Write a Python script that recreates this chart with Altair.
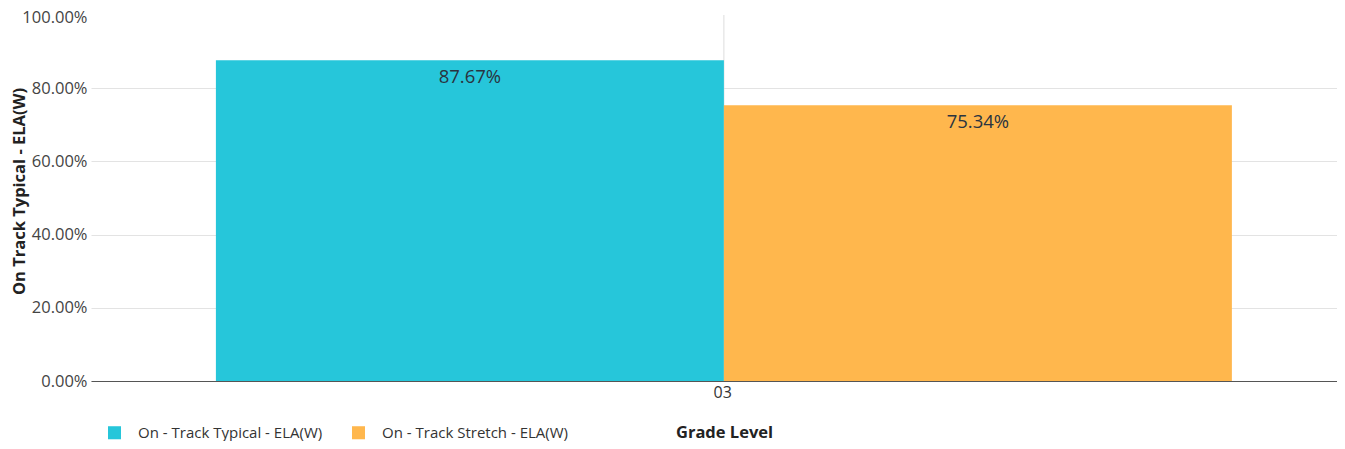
import altair as alt
import pandas as pd

grades = ["03", "03"]
series = ["On - Track Typical - ELA(W)", "On - Track Stretch - ELA(W)"]
values = [87.67, 75.34]
colors = ["#26C6DA", "#FFB74D"]

df = pd.DataFrame({
    "Grade": grades,
    "Series": series,
    "Value": [v / 100 for v in values],
})

FONT = "Open Sans"

x_enc = alt.X(
    "Grade:N",
    title="Grade Level",
    scale=alt.Scale(paddingInner=0, paddingOuter=0.1132, align=0.543),
    axis=alt.Axis(
        labelAngle=0, ticks=False, grid=False, domainColor="#555555",
        labelFontSize=16, labelColor="#333333", labelPadding=11, labelOffset=8,
        titleFontSize=16.5, titleFontWeight="bold", titleColor="#222222",
        titleX=633, titleY=51, titleAlign="center", titleBaseline="middle",
    ),
)
xoff = alt.XOffset("Series:N", sort=series, scale=alt.Scale(paddingInner=0, paddingOuter=0))
y_enc = alt.Y(
    "Value:Q",
    title="On Track Typical - ELA(W)",
    scale=alt.Scale(domain=[0, 1], nice=False),
    axis=alt.Axis(
        format=".2%", values=[0, 0.2, 0.4, 0.6, 0.8, 1.0], ticks=False, domain=False,
        labelFontSize=16.5, labelColor="#444444", labelPadding=4,
        labelOffset={"condition": {"test": "datum.value == 1", "value": 2}, "value": 0},
        gridColor="#e3e3e3",
        gridOpacity={"condition": {"test": "datum.value == 1", "value": 0}, "value": 1},
        titleFontSize=16.5, titleFontWeight="bold", titleColor="#222222",
        titleX=-72, titleY=176, titleAngle=270, titleAlign="center", titleBaseline="middle",
    ),
)

bars = alt.Chart(df).mark_bar().encode(
    x=x_enc,
    xOffset=xoff,
    y=y_enc,
    color=alt.Color(
        "Series:N",
        sort=series,
        scale=alt.Scale(domain=series, range=colors),
        legend=alt.Legend(
            title=None, orient="none", direction="horizontal", padding=0,
            legendX=16, legendY=410, symbolType="square", symbolSize=170,
            symbolStrokeWidth=0, labelFontSize=15, labelColor="#333333",
            labelOffset=16, columnPadding=28, labelLimit=400,
        ),
    ),
)

labels = alt.Chart(df).mark_text(
    baseline="middle", align="center", dy=17, fontSize=18.5, color="#2a3440", font=FONT
).encode(
    x=alt.X("Grade:N"),
    xOffset=xoff,
    y=alt.Y("Value:Q"),
    text=alt.Text("Value:Q", format=".2%"),
)

vline = alt.Chart(pd.DataFrame({"Grade": ["03"]})).mark_rule(color="#dddddd", strokeWidth=1).encode(
    x=alt.X("Grade:N"),
    y=alt.value(0),
    y2=alt.value(366),
)

chart = alt.layer(vline, bars, labels).properties(
    width=1246,
    height=366,
    autosize=alt.AutoSizeParams(type="none"),
    padding={"left": 83, "top": 7, "right": 0, "bottom": 60},
).configure(font=FONT).configure_view(stroke=None)

chart.save("out.html", embed_options={"renderer": "svg", "actions": False})
